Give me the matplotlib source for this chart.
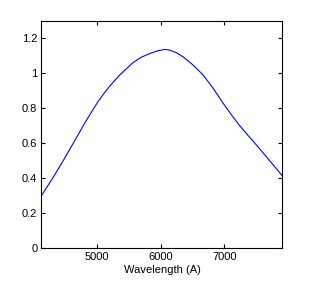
import matplotlib.pyplot as plt

# values
wavelength = [4129, 4305, 4470, 4628, 4785, 4870, 4942, 5020, 5100, 5190,
              5283, 5370, 5450, 5570, 5700, 5832, 5960, 6070, 6146, 6250,
              6355, 6512, 6669, 6826, 6983, 7115, 7234, 7360, 7481, 7664,
              7790, 7914]
response = [0.300, 0.400, 0.500, 0.600, 0.700, 0.752, 0.795, 0.840, 0.880,
            0.922, 0.961, 0.995, 1.022, 1.063, 1.093, 1.114, 1.130, 1.137,
            1.133, 1.118, 1.094, 1.047, 0.990, 0.914, 0.828, 0.761, 0.704,
            0.650, 0.600, 0.521, 0.466, 0.412]
xticks = [5000, 6000, 7000]
yticks = [0, 0.2, 0.4, 0.6, 0.8, 1, 1.2]
yticklabels = ['0', '0.2', '0.4', '0.6', '0.8', '1', '1.2']

plt.rcParams['font.family'] = ['Liberation Sans', 'DejaVu Sans']

fig = plt.figure(figsize=(3.12, 2.86), dpi=100)
ax = fig.add_axes([0.133, 0.133, 0.7724, 0.7937])

ax.plot(wavelength, response, color='blue', linewidth=0.8)

ax.set_xlim(4129, 7914)
ax.set_ylim(0, 1.3)
ax.set_xticks(xticks)
ax.set_xticklabels([str(t) for t in xticks])
ax.set_yticks(yticks)
ax.set_yticklabels(yticklabels)
ax.tick_params(direction='in', length=3, width=0.8, labelsize=8,
               top=True, right=True, pad=3)
for s in ax.spines.values():
    s.set_linewidth(0.8)
ax.set_xlabel('Wavelength (A)', fontsize=8, labelpad=2)

fig.savefig('out.png', dpi=100)
